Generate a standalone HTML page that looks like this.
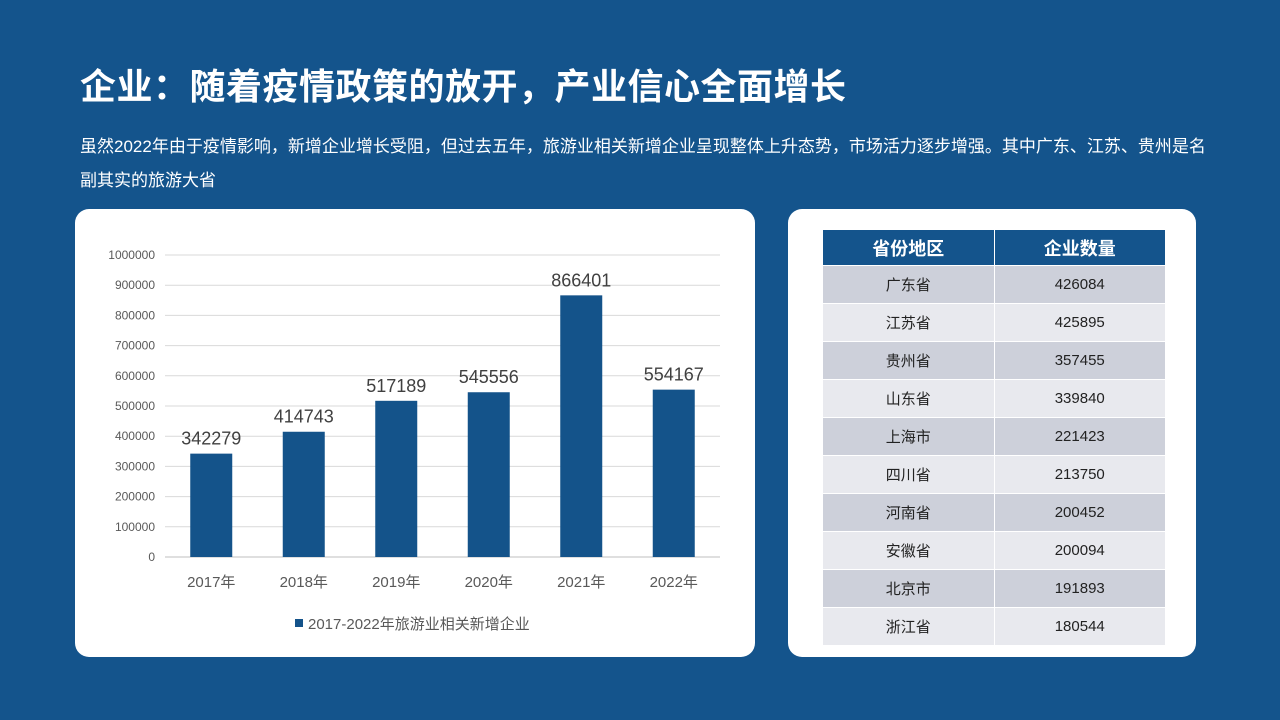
<!DOCTYPE html>
<html><head><meta charset="utf-8">
<style>
body{margin:0;width:1280px;height:720px;background:#14548c;font-family:"Liberation Sans","Noto Sans CJK SC",sans-serif;position:relative;overflow:hidden}
.title{position:absolute;left:80px;top:58px;font-size:36px;font-weight:bold;color:#fff;letter-spacing:0.5px}
.sub{position:absolute;left:80px;top:130px;width:1130px;font-size:17px;line-height:34px;color:#fff}
.panel{position:absolute;background:#fff;border-radius:14px}
table{position:absolute;left:34px;top:20px;border-collapse:collapse;width:344px}
td,th{height:37px;text-align:center;font-size:15px;color:#222;border:1px solid #fff;padding:0}
th{background:#14548c;color:#fff;font-size:18px;height:35px}
tr:nth-child(even) td{background:#cdd0da}
tr:nth-child(odd) td{background:#e8e9ee}
</style></head><body>
<div class="title">企业：随着疫情政策的放开，产业信心全面增长</div>
<div class="sub">虽然2022年由于疫情影响，新增企业增长受阻，但过去五年，旅游业相关新增企业呈现整体上升态势，市场活力逐步增强。其中广东、江苏、贵州是名副其实的旅游大省</div>
<div class="panel" style="left:75px;top:209px;width:680px;height:448px">
<svg id="chart" width="680" height="448"></svg>
</div>
<div class="panel" style="left:788px;top:209px;width:408px;height:448px">
<table>
<tr><th style="width:50%">省份地区</th><th>企业数量</th></tr>
<tr><td>广东省</td><td>426084</td></tr>
<tr><td>江苏省</td><td>425895</td></tr>
<tr><td>贵州省</td><td>357455</td></tr>
<tr><td>山东省</td><td>339840</td></tr>
<tr><td>上海市</td><td>221423</td></tr>
<tr><td>四川省</td><td>213750</td></tr>
<tr><td>河南省</td><td>200452</td></tr>
<tr><td>安徽省</td><td>200094</td></tr>
<tr><td>北京市</td><td>191893</td></tr>
<tr><td>浙江省</td><td>180544</td></tr>
</table>
</div>
<script>
const categories=["2017年","2018年","2019年","2020年","2021年","2022年"];
const values=[342279,414743,517189,545556,866401,554167];
const ticks=[0,100000,200000,300000,400000,500000,600000,700000,800000,900000,1000000];
const NS="http://www.w3.org/2000/svg";
const svg=document.getElementById('chart');
const x0=90,x1=645,yb=348,yt=46,max=1000000;
const y=v=>yb-(v/max)*(yb-yt);
const step=(x1-x0)/categories.length;
const xc=i=>x0+step*(i+0.5);
function mk(t,a,txt){const e=document.createElementNS(NS,t);for(const k in a)e.setAttribute(k,a[k]);if(txt!==undefined)e.textContent=txt;svg.appendChild(e);return e;}
ticks.forEach(t=>{
 const l=mk('line',{x1:x0,x2:x1,y1:y(t),y2:y(t),stroke:t?'#d9d9d9':'#bfbfbf','stroke-width':1});
 
 
 const tx=mk('text',{x:x0-10,y:y(t)+4,'text-anchor':'end','font-size':12,fill:'#595959'},String(t));
 
 
});
values.forEach((v,i)=>{
 const r=mk('rect',{x:xc(i)-21,y:y(v),width:42,height:yb-y(v),fill:'#14538a'});
 
 
 const lb=mk('text',{x:xc(i),y:y(v)-9,'text-anchor':'middle','font-size':18,fill:'#404040'},String(v));
 
 
 const c=mk('text',{x:xc(i),y:yb+30,'text-anchor':'middle','font-size':15,fill:'#595959'},categories[i]);
 
 
});
const lr=mk('rect',{x:220,y:410,width:8,height:8,fill:'#14538a'});


const lt=mk('text',{x:233,y:420,'font-size':15,fill:'#595959'},'2017-2022年旅游业相关新增企业');


</script>
</body></html>
